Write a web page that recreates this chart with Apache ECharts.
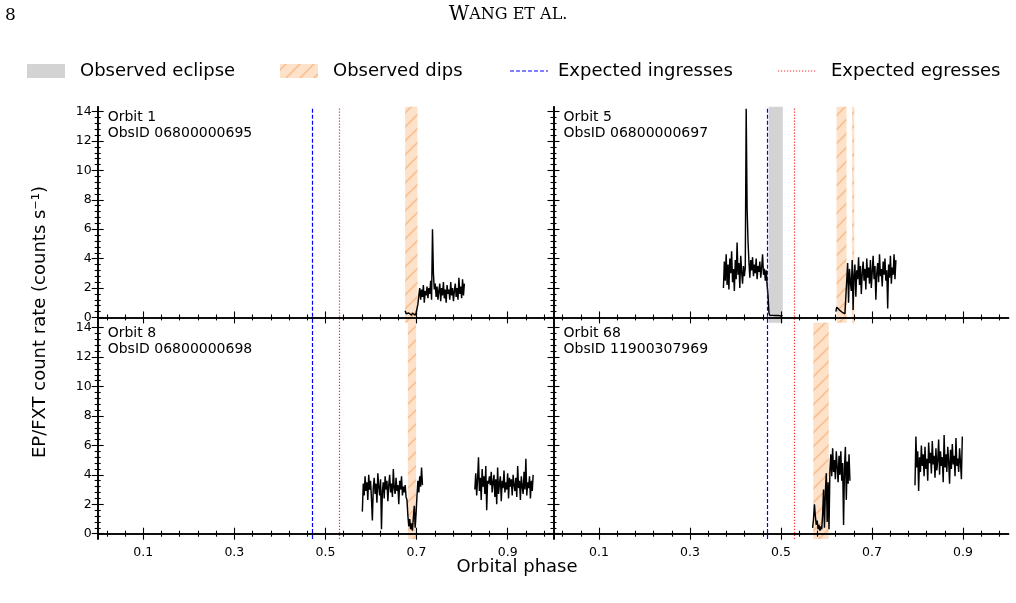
<!DOCTYPE html>
<html lang="en">
<head>
<meta charset="UTF-8">
<script src="https://cdn.jsdelivr.net/npm/echarts@6/dist/echarts.min.js"></script>
<title>EP/FXT light curves vs orbital phase</title>
<style>
  html, body { margin: 0; padding: 0; background: #fff; }
</style>
</head>
<body>
<div id="main" style="width:1016px;height:603px"></div>
<script>
// light curve bin width in orbital phase
var binWidth = 0.002;

var orbitNames = ['Orbit 1', 'Orbit 5', 'Orbit 8', 'Orbit 68'];
var obsIds = ['06800000695', '06800000697', '06800000698', '11900307969'];

// each segment starts at a phase and has one count rate per bin
var orbit1Starts = [0.675];
var orbit1Rates = [[
  0.45, 0.25, 0.35, 0.15, 0.3, 0.2, 0.4, 0.15, 0.3, 0.2,
  0.35, 0.15, 0.3, 0.2, 0.9, 1.5, 2.0, 1.2, 1.9, 1.4,
  2.2, 1.0, 1.8, 1.5, 2.1, 1.3, 2.0, 1.6, 2.5, 1.2,
  6.0, 3.0, 1.9, 2.3, 1.4, 2.1, 1.2, 1.8, 2.3, 1.1,
  2.0, 1.5, 2.4, 1.3, 1.9, 1.0, 2.2, 1.6, 1.9, 1.2,
  2.4, 1.5, 2.0, 1.1, 1.8, 2.3, 1.4, 2.0, 1.2, 2.7,
  1.6, 2.1, 1.3, 2.6, 1.5, 2.3
]];

var orbit5Starts = [0.3735, 0.6205];
var orbit5Rates = [[
  2.0, 3.8, 2.5, 4.3, 2.2, 3.6, 1.9, 4.0, 3.0, 4.5,
  2.4, 3.3, 1.8, 3.9, 2.6, 5.1, 2.9, 3.7, 2.0, 4.2,
  3.1, 2.3, 3.5, 2.8, 3.4, 14.2, 7.4, 5.2, 3.8, 2.7,
  3.9, 3.2, 4.1, 2.8, 3.6, 3.0, 4.0, 2.6, 3.5, 3.1,
  3.8, 2.7, 3.4, 4.3, 2.9, 3.3, 2.5, 3.2, 2.2, 1.5,
  0.3, 0.15, 0.1, 0.12, 0.14, 0.1, 0.12, 0.13, 0.1, 0.12,
  0.14, 0.11, 0.12, 0.1, 0.13, 0.12
], [
  0.4, 0.7, 0.8, 0.6, 0.5, 0.4, 0.45, 0.35, 0.3, 0.4,
  0.25, 0.3, 0.2, 3.7, 1.0, 3.3, 2.4, 1.8, 3.9, 0.5,
  2.9, 3.6, 1.4, 3.2, 2.6, 4.1, 2.2, 3.5, 1.6, 3.0,
  3.8, 2.5, 3.3, 1.9, 4.0, 2.7, 3.4, 2.3, 3.9, 2.0,
  3.1, 4.2, 2.6, 3.5, 1.2, 3.0, 3.7, 2.4, 4.3, 2.8,
  3.3, 2.1, 3.8, 2.9, 4.0, 2.5, 3.2, 0.6, 3.6, 2.7,
  4.2, 2.3, 3.4, 2.9, 4.3, 2.6, 3.9
]];

var orbit8Starts = [0.581, 0.828];
var orbit8Rates = [[
  1.5, 3.4, 2.6, 3.9, 2.9, 3.5, 2.3, 4.0, 3.0, 3.6,
  2.4, 0.9, 3.1, 3.8, 2.7, 3.4, 2.1, 4.1, 3.2, 2.6,
  3.7, 0.3, 2.9, 3.5, 2.4, 3.9, 3.0, 3.6, 2.2, 3.3,
  4.0, 2.8, 3.4, 2.5, 4.4, 3.1, 2.7, 3.8, 2.9, 3.3,
  2.0, 3.6, 3.0, 3.9, 2.6, 3.2, 2.8, 3.3, 2.5, 2.3,
  1.2, 0.5, 1.0, 0.3, 0.7, 0.2, 1.1, 1.9, 0.4, 1.4,
  2.6, 3.6, 2.8, 3.9, 3.2, 4.5, 3.3
], [
  3.0, 4.1, 2.6, 3.7, 5.2, 2.9, 3.8, 2.3, 4.4, 3.2,
  3.9, 2.7, 4.6, 1.6, 3.6, 3.4, 3.9, 3.3, 4.2, 2.8,
  3.5, 4.0, 2.5, 3.7, 2.0, 4.5, 2.7, 3.4, 3.9, 2.2,
  3.6, 3.1, 4.3, 2.8, 3.5, 3.0, 4.1, 2.4, 3.8, 3.2,
  3.7, 2.6, 4.0, 3.3, 2.9, 3.8, 2.5, 4.6, 3.1, 3.6,
  2.3, 3.9, 3.2, 2.7, 4.2, 3.0, 5.1, 2.6, 3.5, 3.1,
  3.9, 2.4, 3.6, 2.9, 4.0
]];

var orbit68Starts = [0.5695, 0.7945];
var orbit68Rates = [[
  0.4, 1.0, 2.0, 1.2, 0.6, 0.9, 0.3, 0.6, 0.2, 0.5,
  0.3, 1.3, 3.0, 0.4, 2.8, 4.1, 0.8, 3.5, 0.3, 4.3,
  5.4, 3.9, 5.8, 4.2, 5.0, 3.7, 5.6, 4.5, 3.5, 5.3,
  4.0, 5.6, 3.6, 4.8, 0.6, 4.4, 5.9, 2.3, 4.9, 3.4,
  5.4, 3.6
], [
  3.3, 6.6, 4.5, 5.6, 2.9, 5.2, 4.2, 6.0, 4.6, 5.4,
  3.9, 5.9, 4.4, 5.1, 3.6, 6.2, 4.8, 5.5, 4.1, 6.3,
  4.7, 5.3, 3.8, 5.8, 4.3, 5.0, 6.4, 4.0, 5.6, 4.6,
  5.2, 3.5, 6.7, 4.5, 5.4, 4.2, 5.9, 4.9, 3.4, 5.7,
  4.4, 6.1, 4.7, 5.3, 3.9, 6.5, 4.6, 5.1, 4.2, 5.8,
  4.8, 3.7, 6.6
]];

// expected eclipse contacts, observed eclipse and dip intervals (phase)
var ingressPhase = 0.473;
var egressPhase = 0.527;
var orbit1Eclipse = [];
var orbit5Eclipse = [[0.473, 0.504]];
var orbit8Eclipse = [];
var orbit68Eclipse = [];
var orbit1Dips = [[0.675, 0.702]];
var orbit5Dips = [[0.622, 0.644], [0.656, 0.661]];
var orbit8Dips = [[0.681, 0.699]];
var orbit68Dips = [[0.571, 0.605]];

var xMajorTicks = [0.1, 0.3, 0.5, 0.7, 0.9];
var xMinorTicks = [0.02, 0.06, 0.14, 0.18, 0.22, 0.26, 0.34, 0.38, 0.42, 0.46,
  0.54, 0.58, 0.62, 0.66, 0.74, 0.78, 0.82, 0.86, 0.94, 0.98];
var yMajorTicks = [0, 2, 4, 6, 8, 10, 12, 14];
var yMinorTicks = [0.4, 0.8, 1.2, 1.6, 2.4, 2.8, 3.2, 3.6, 4.4, 4.8, 5.2, 5.6,
  6.4, 6.8, 7.2, 7.6, 8.4, 8.8, 9.2, 9.6, 10.4, 10.8, 11.2, 11.6, 12.4, 12.8, 13.2, 13.6];

var panels = [
  {starts: orbit1Starts, rates: orbit1Rates, eclipse: orbit1Eclipse, dips: orbit1Dips},
  {starts: orbit5Starts, rates: orbit5Rates, eclipse: orbit5Eclipse, dips: orbit5Dips},
  {starts: orbit8Starts, rates: orbit8Rates, eclipse: orbit8Eclipse, dips: orbit8Dips},
  {starts: orbit68Starts, rates: orbit68Rates, eclipse: orbit68Eclipse, dips: orbit68Dips}
];

var FONT = 'DejaVu Sans';

// hatch pattern for the dips
function makeHatch() {
  var s = 14;
  var c = document.createElement('canvas');
  c.width = s; c.height = s;
  var ctx = c.getContext('2d');
  ctx.fillStyle = '#fde1c9';
  ctx.fillRect(0, 0, s, s);
  ctx.strokeStyle = '#f9c193';
  ctx.lineWidth = 1.6;
  ctx.beginPath();
  ctx.moveTo(0, s); ctx.lineTo(s, 0);
  ctx.moveTo(-2, 2); ctx.lineTo(2, -2);
  ctx.moveTo(s - 2, s + 2); ctx.lineTo(s + 2, s - 2);
  ctx.stroke();
  return c;
}
var hatch = {image: makeHatch(), repeat: 'repeat'};

var gridBoxes = [
  {left: 97.7, top: 106.7, width: 455.5, height: 216},
  {left: 553.5, top: 106.7, width: 455, height: 216},
  {left: 97.7, top: 322.7, width: 455.5, height: 216.3},
  {left: 553.5, top: 322.7, width: 455, height: 216.3}
];

var grids = [], xAxes = [], yAxes = [], series = [];

gridBoxes.forEach(function (b, g) {
  grids.push({left: b.left, top: b.top, width: b.width, height: b.height, containLabel: false});
  var showX = g >= 2, showY = g % 2 === 0;
  ['bottom', 'top'].forEach(function (pos) {
    [true, false].forEach(function (major) {
      xAxes.push({
        type: 'value', gridIndex: g, min: 0, max: 1, position: pos, z: 10,
        axisLine: {show: major, lineStyle: {color: '#000', width: 1.6}},
        splitLine: {show: false},
        axisTick: {show: true, inside: true, length: major ? 6 : 3,
          customValues: major ? xMajorTicks : xMinorTicks,
          lineStyle: {color: '#000', width: 1.1}},
        axisLabel: {show: showX && major && pos === 'bottom', customValues: xMajorTicks,
          margin: 7, color: '#000', fontFamily: FONT, fontSize: 12.5,
          formatter: function (v) { return v.toFixed(1); }}
      });
    });
  });
  ['left', 'right'].forEach(function (pos) {
    [true, false].forEach(function (major) {
      yAxes.push({
        type: 'value', gridIndex: g, min: -0.36, max: 14.34, position: pos, z: 10,
        axisLine: {show: major, lineStyle: {color: '#000', width: 1.6}},
        splitLine: {show: false},
        axisTick: {show: true, inside: true, length: major ? 6 : 3,
          customValues: major ? yMajorTicks : yMinorTicks,
          lineStyle: {color: '#000', width: 1.1}},
        axisLabel: {show: showY && major && pos === 'left', customValues: yMajorTicks,
          margin: 6, color: '#000', fontFamily: FONT, fontSize: 12.5}
      });
    });
  });

  var p = panels[g];
  var areas = [];
  p.eclipse.forEach(function (e) {
    areas.push([{xAxis: e[0], itemStyle: {color: '#d3d3d3'}}, {xAxis: e[1]}]);
  });
  p.dips.forEach(function (d) {
    areas.push([{xAxis: d[0], itemStyle: {color: hatch}}, {xAxis: d[1]}]);
  });

  p.rates.forEach(function (rates, k) {
    var start = p.starts[k];
    var s = {
      type: 'line', xAxisIndex: g * 4, yAxisIndex: g * 4,
      data: rates.map(function (r, i) { return [+(start + i * binWidth).toFixed(4), r]; }),
      showSymbol: false, symbol: 'none', silent: true, z: 3,
      lineStyle: {color: '#000', width: 1.45}
    };
    if (k === 0) {
      s.markArea = {silent: true, data: areas};
      s.markLine = {
        silent: true, symbol: ['none', 'none'], label: {show: false},
        data: [
          {xAxis: ingressPhase, lineStyle: {color: '#0000ff', type: [4, 2], width: 1.2}},
          {xAxis: egressPhase, lineStyle: {color: '#ff2a2a', type: [1.2, 1.8], width: 1.2}}
        ]
      };
    }
    series.push(s);
  });
});

function panelText(g) {
  var b = gridBoxes[g];
  return {
    type: 'text', left: b.left + 10, top: b.top + 3, z: 20,
    style: {text: orbitNames[g] + '\nObsID ' + obsIds[g], font: '14px ' + FONT,
      lineHeight: 16, fill: '#000'}
  };
}

var graphics = [
  {type: 'text', left: 5, top: 7, style: {text: '8', font: '17px DejaVu Serif', fill: '#000'}},
  {type: 'text', x: 508, y: 15, style: {
    text: '{b|W}{s|ANG ET AL.}', align: 'center', verticalAlign: 'middle',
    rich: {b: {fontFamily: 'DejaVu Serif', fontSize: 20}, s: {fontFamily: 'DejaVu Serif', fontSize: 16}}}},
  // legend
  {type: 'rect', shape: {x: 27, y: 64, width: 38, height: 14}, style: {fill: '#d3d3d3'}},
  {type: 'text', x: 80, y: 71, style: {text: 'Observed eclipse', font: '18px ' + FONT, verticalAlign: 'middle', fill: '#000'}},
  {type: 'rect', shape: {x: 280, y: 64, width: 38, height: 14}, style: {fill: hatch}},
  {type: 'text', x: 333, y: 71, style: {text: 'Observed dips', font: '18px ' + FONT, verticalAlign: 'middle', fill: '#000'}},
  {type: 'line', shape: {x1: 510, y1: 71, x2: 548, y2: 71}, style: {stroke: '#0000ff', lineWidth: 1.2, lineDash: [4, 2]}},
  {type: 'text', x: 558, y: 71, style: {text: 'Expected ingresses', font: '18px ' + FONT, verticalAlign: 'middle', fill: '#000'}},
  {type: 'line', shape: {x1: 778, y1: 71, x2: 817, y2: 71}, style: {stroke: '#ff2a2a', lineWidth: 1.2, lineDash: [1.2, 1.8]}},
  {type: 'text', x: 831, y: 71, style: {text: 'Expected egresses', font: '18px ' + FONT, verticalAlign: 'middle', fill: '#000'}},
  // axis titles
  {type: 'text', x: 517, y: 567, style: {text: 'Orbital phase', font: '18px ' + FONT, align: 'center', verticalAlign: 'middle', fill: '#000'}},
  {type: 'text', x: 40, y: 322, rotation: Math.PI / 2, style: {text: 'EP/FXT count rate (counts s\u207B\u00B9)', font: '18px ' + FONT, align: 'center', verticalAlign: 'middle', fill: '#000'}},
  panelText(0), panelText(1), panelText(2), panelText(3)
];

var chart = echarts.init(document.getElementById('main'));
chart.setOption({
  animation: false,
  backgroundColor: '#fff',
  grid: grids,
  xAxis: xAxes,
  yAxis: yAxes,
  series: series,
  graphic: graphics
});
</script>
</body>
</html>
